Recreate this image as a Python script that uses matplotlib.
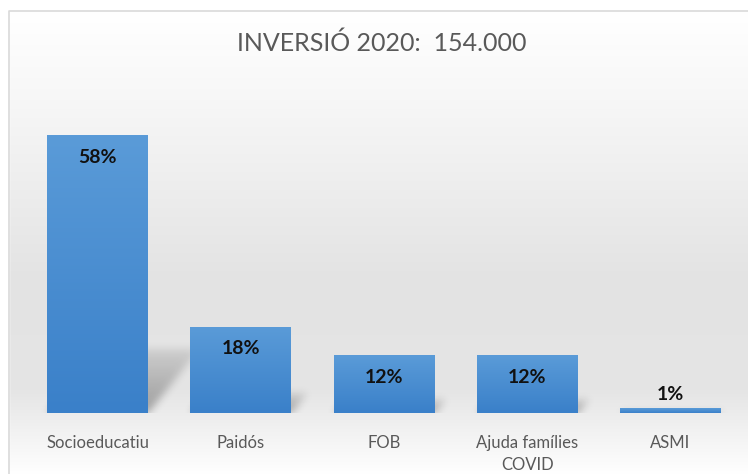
import numpy as np
import matplotlib
matplotlib.use('Agg')
import matplotlib.pyplot as plt
from matplotlib.colors import LinearSegmentedColormap
from matplotlib.patches import Rectangle

plt.rcParams['font.family'] = ['Lato', 'DejaVu Sans']

# data
categories = ['Socioeducatiu', 'Paidós', 'FOB', 'Ajuda famílies\nCOVID', 'ASMI']
values = [58, 18, 12, 12, 1]
labels = ['58%', '18%', '12%', '12%', '1%']
title = 'INVERSIÓ 2020:  154.000'

W, H = 748, 474
fig = plt.figure(figsize=(W / 100, H / 100), dpi=100)

# background gradient + frame
bg = fig.add_axes([0, 0, 1, 1], zorder=0)
bg.set_axis_off()
ys = np.array([0, 11, 100, 280, 390, 474])
gs = np.array([255, 255, 247, 227, 229, 255]) / 255
rows = np.interp(np.arange(H), ys, gs)
grad = np.repeat(rows[:, None], 2, axis=1)
bg.imshow(np.dstack([grad, grad, grad]), extent=(0, 1, 0, 1), aspect='auto')
bg.add_patch(Rectangle((0, 0), 9 / W, 1, transform=bg.transAxes, color='white', zorder=3))
bg.add_patch(Rectangle((0, 1 - 11 / H), 1, 11 / H, transform=bg.transAxes, color='white', zorder=3))
bg.plot([9 / W, 9 / W, 1], [0, 1 - 11 / H, 1 - 11 / H], color='#d9d9d9', lw=1.2, zorder=4)
bg.set_xlim(0, 1)
bg.set_ylim(0, 1)

ymax = 65
ax_h = ymax / 58 * 278
ax = fig.add_axes([26 / W, (H - 413) / H, 716 / W, ax_h / H], zorder=1)
ax.patch.set_alpha(0)
x = np.arange(len(categories))
bars = ax.bar(x, values, width=0.705, color='#4a8fd2', zorder=3)
ax.set_xlim(-0.5, len(categories) - 0.5)
ax.set_ylim(0, ymax)
ax.set_xticks(x)
ax.set_xticklabels(categories, fontsize=12, color='#595959', linespacing=1.5)
ax.tick_params(axis='x', length=0, pad=15.5)
ax.set_yticks([])
for s in ax.spines.values():
    s.set_visible(False)

# gradient fill of bars
cmap = LinearSegmentedColormap.from_list('bar', ['#3a80c9', '#5a9bd8'])
grad_v = np.linspace(0, 1, 100)[:, None]
for b in bars:
    bx, bw, bh = b.get_x(), b.get_width(), b.get_height()
    im = ax.imshow(grad_v[::-1], cmap=cmap, extent=(bx, bx + bw, 0, bh),
                   aspect='auto', zorder=3.5, origin='upper')
    im.set_clip_path(b)

# shadows drawn in pixel space of the axes
fig.canvas.draw()
abox = ax.get_window_extent()
aw, ah = int(round(abox.width)), int(round(abox.height))
alpha = np.zeros((ah, aw))
yy = np.arange(ah)[:, None]
xx = np.arange(aw)[None, :]
for b in bars:
    e = b.get_window_extent()
    x0, x1 = e.x0 - abox.x0, e.x1 - abox.x0
    hp = e.height
    sh = 0.23 * hp
    t = ah - 1 - yy  # height above baseline
    lo = x0 + t * 0.8
    hi = x1 + t * 0.8
    m = (t <= sh) & (xx >= lo) & (xx <= hi)
    a = 0.32 * (1 - 0.7 * t / max(sh, 1))
    alpha = np.maximum(alpha, np.where(m, a, 0))
k = np.exp(-0.5 * (np.arange(-12, 13) / 4.0) ** 2)
k /= k.sum()
alpha = np.apply_along_axis(lambda r: np.convolve(r, k, mode='same'), 1, alpha)
alpha = np.apply_along_axis(lambda c: np.convolve(c, k, mode='same'), 0, alpha)
shadow = np.zeros((ah, aw, 4))
shadow[..., 3] = alpha
ax.imshow(shadow, extent=(-0.5, len(categories) - 0.5, 0, ymax), aspect='auto', zorder=2)
ax.set_xlim(-0.5, len(categories) - 0.5)
ax.set_ylim(0, ymax)

# labels
for b, lab in zip(bars, labels):
    cx = b.get_x() + b.get_width() / 2
    h = b.get_height()
    off = -16 if h > 5 else 10
    ax.annotate(lab, (cx, h), xytext=(0, off), textcoords='offset points',
                ha='center', va='center', fontsize=14, fontweight='bold',
                color='#111111', zorder=5)

fig.text(382 / W, 1 - 43 / H, title, ha='center', va='center', fontsize=18,
         color='#595959')

fig.savefig('out.png', dpi=100)
